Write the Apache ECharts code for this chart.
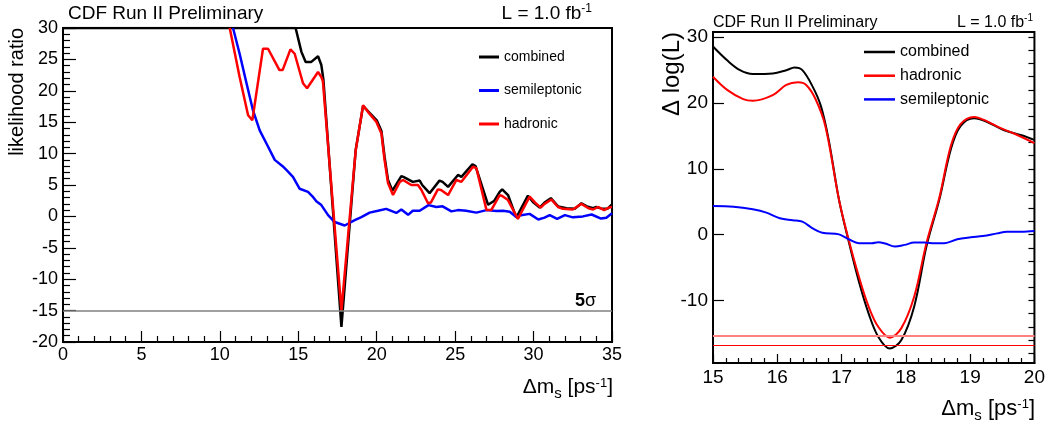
<!DOCTYPE html>
<html><head><meta charset="utf-8">
<script src="https://cdn.jsdelivr.net/npm/echarts@6/dist/echarts.min.js"></script>
<style>html,body{margin:0;padding:0;background:#fff}#c{width:1048px;height:425px}</style>
</head><body><div id="c"></div>
<script>
const FONT = '"Liberation Sans", Arial, sans-serif';

// ---------- left panel: likelihood ratio vs dm_s ----------
const leftCombined = [[0,30],[14.83,30],[15.2,26.2],[15.47,24.6],[15.83,24.6],[16.26,25.5],[16.47,24.1],[16.6,21.8],[17.75,-17.6],[18.66,10.6],[19.13,17.6],[19.5,16.6],[20.0,15.3],[20.3,13.6],[20.5,9.5],[20.72,5.8],[21.0,4.1],[21.57,6.4],[21.7,6.3],[22.3,5.5],[22.74,5.7],[22.9,5.0],[23.37,3.7],[24.0,5.7],[24.2,5.5],[24.55,4.7],[25.18,6.6],[25.4,6.3],[26.1,8.3],[26.3,8.0],[27.1,1.85],[27.5,2.5],[27.84,3.9],[28.0,4.3],[28.37,3.4],[28.9,-0.2],[29.64,3.3],[30.0,2.2],[30.39,1.4],[30.7,2.2],[31.1,2.9],[31.56,1.6],[32.1,1.3],[32.62,1.2],[33.05,2.1],[33.4,1.6],[33.8,1.3],[34.0,1.5],[34.4,1.2],[34.7,1.2],[35,1.9]];
const leftSemileptonic = [[10.84,30],[11.26,25.9],[11.7,21.2],[12.11,16.9],[12.54,13.7],[12.97,11.6],[13.5,9.0],[14.0,8.0],[14.24,7.4],[14.66,6.3],[15.09,4.4],[15.62,3.9],[15.9,3.2],[16.15,2.4],[16.47,1.8],[16.9,0.2],[17.32,-0.9],[17.96,-1.45],[18.6,-0.6],[19.02,-0.1],[19.55,0.6],[20.08,0.9],[20.6,1.2],[21.25,0.55],[21.57,1.1],[22.0,0.25],[22.3,0.9],[22.74,0.9],[23.3,1.8],[23.8,1.5],[24.2,1.6],[24.76,0.8],[25.18,1.0],[25.7,0.9],[26.35,0.6],[27.0,1.0],[27.63,0.85],[28.05,0.9],[28.48,0.75],[28.9,-0.1],[29.2,0.2],[29.75,0.4],[30.3,-0.5],[30.7,-0.2],[31.03,0.2],[31.5,-0.4],[32.0,0.2],[32.5,-0.15],[33.15,0.0],[33.7,0.3],[34.3,-0.35],[34.64,-0.2],[35,0.5]];
const leftHadronic = [[10.63,30],[11.26,22.2],[11.8,16.1],[12.07,15.3],[12.75,26.7],[13.07,26.7],[13.8,23.3],[14.0,23.3],[14.5,26.6],[14.77,25.9],[15.3,21.2],[15.56,20.4],[16.26,23.0],[16.47,22.2],[16.57,21.5],[17.75,-15.0],[18.66,10.5],[19.13,17.7],[19.44,16.65],[19.98,15.05],[20.3,13.2],[20.5,9.0],[20.72,5.3],[21.04,3.4],[21.47,5.5],[21.68,5.8],[22.2,5.0],[22.63,5.0],[22.85,4.2],[23.27,2.1],[23.45,2.2],[23.9,4.3],[24.1,4.2],[24.55,3.4],[25.08,5.8],[25.4,5.5],[26.14,7.9],[26.35,7.7],[27.0,1.0],[27.3,1.0],[27.84,3.4],[28.0,3.25],[28.37,2.6],[29.0,-0.4],[29.75,3.15],[30.1,2.2],[30.45,1.4],[30.7,2.0],[31.13,2.7],[31.56,1.5],[31.87,1.2],[32.5,1.1],[33.05,2.0],[33.5,1.3],[33.8,1.1],[34.1,1.5],[34.5,1.0],[34.8,1.4],[35,1.5]];
const fiveSigmaLevel = -15;
const leftXRange = [0, 35];
const leftYRange = [-20, 30];

// ---------- right panel: delta log(L) vs dm_s ----------
const rightCombined = [[15,28.6],[15.22,26.5],[15.42,25.0],[15.62,24.4],[15.93,24.5],[16.14,25.0],[16.27,25.4],[16.39,25.0],[16.55,22.5],[16.68,19.5],[16.8,14.4],[16.96,5.3],[17.1,-0.6],[17.27,-7.15],[17.42,-11.95],[17.57,-15.5],[17.75,-17.3],[17.93,-16.0],[18.13,-10.9],[18.32,-1.8],[18.52,5.3],[18.7,13.0],[18.85,16.5],[19.06,17.7],[19.25,17.2],[19.52,15.9],[19.8,15.1],[20,14.4]];
const rightHadronic = [[15,24.0],[15.22,22.0],[15.47,20.6],[15.62,20.35],[15.93,21.2],[16.14,22.75],[16.32,23.15],[16.45,22.75],[16.6,20.5],[16.75,16.4],[16.96,5.3],[17.09,0],[17.27,-6.4],[17.42,-10.9],[17.57,-14.0],[17.75,-15.65],[17.93,-14.2],[18.13,-9.4],[18.32,-1.3],[18.52,5.6],[18.7,13.5],[18.85,16.8],[19.06,17.9],[19.25,17.3],[19.45,16.3],[19.7,15.3],[20,13.9]];
const rightSemileptonic = [[15,4.36],[15.32,4.25],[15.62,3.85],[15.83,3.35],[16.04,2.5],[16.24,2.2],[16.39,1.98],[16.55,0.97],[16.7,0.3],[16.96,0.05],[17.11,-0.7],[17.27,-1.3],[17.47,-1.3],[17.57,-1.15],[17.68,-1.35],[17.83,-1.8],[17.98,-1.55],[18.13,-1.2],[18.29,-1.2],[18.45,-1.3],[18.6,-1.3],[18.8,-0.7],[19.01,-0.4],[19.2,-0.2],[19.42,0.2],[19.57,0.45],[19.8,0.45],[20,0.56]];
const rightHadronicLevel = -15.35;
const rightCombinedLevel = -16.8;
const rightXRange = [15, 20];
const rightYRange = [-19.5, 30.8];
const rightYMajorTicks = [-10, 0, 10, 20, 30];
const rightYMinorTicks = [-18,-16,-14,-12,-10,-8,-6,-4,-2,0,2,4,6,8,10,12,14,16,18,20,22,24,26,28,30];

const leftLegend = ['combined', 'semileptonic', 'hadronic'];
const rightLegend = ['combined', 'hadronic', 'semileptonic'];
const COLORS = { combined: '#000000', semileptonic: '#0000ff', hadronic: '#ff0000' };

const chart = echarts.init(document.getElementById('c'), null, { renderer: 'canvas' });

function valAxis(extra) {
  return Object.assign({
    type: 'value',
    axisLine: { show: true, onZero: false, lineStyle: { color: '#000', width: 2 } },
    axisTick: { show: true, inside: true, lineStyle: { color: '#000', width: 1.2 } },
    minorTick: { show: true, splitNumber: 5, lineStyle: { color: '#000', width: 1.2 } },
    splitLine: { show: false },
    axisLabel: { color: '#000', fontFamily: FONT }
  }, extra);
}

const lineSeries = (name, data, xi, width, smooth, extra) => Object.assign({
  type: 'line', name, data, xAxisIndex: xi, yAxisIndex: xi === 0 ? 0 : 1,
  showSymbol: false, symbol: 'none', smooth: smooth, clip: true,
  lineStyle: { color: COLORS[name], width: width },
  itemStyle: { color: COLORS[name] }, animation: false
}, extra || {});

function axisTitleRich(size) {
  return {
    a: { fontFamily: FONT, fontSize: size, lineHeight: size, color: '#000', verticalAlign: 'middle' },
    b: { fontFamily: FONT, fontSize: 15, lineHeight: 15, color: '#000', verticalAlign: 'middle', padding: [14, 0, 0, 0] },
    s: { fontFamily: FONT, fontSize: 13, lineHeight: 13, color: '#000', verticalAlign: 'top', padding: [0, 0, 18, 0] }
  };
}

const option = {
  animation: false,
  backgroundColor: '#fff',
  grid: [
    { left: 63, top: 28, width: 549, height: 314, show: true, borderColor: '#000', borderWidth: 2, backgroundColor: 'transparent' },
    { left: 713, top: 32, width: 323, height: 331, show: true, borderColor: '#000', borderWidth: 2, backgroundColor: 'transparent' }
  ],
  xAxis: [
    valAxis({ gridIndex: 0, min: leftXRange[0], max: leftXRange[1], interval: 5,
      axisTick: { show: true, inside: true, length: 11, lineStyle: { color: '#000', width: 1.2 } },
      minorTick: { show: true, splitNumber: 5, length: 6, lineStyle: { color: '#000', width: 1.2 } },
      axisLabel: { color: '#000', fontFamily: FONT, fontSize: 18, margin: 4 } }),
    valAxis({ gridIndex: 1, min: rightXRange[0], max: rightXRange[1], interval: 1,
      axisTick: { show: true, inside: true, length: 9, lineStyle: { color: '#000', width: 1.2 } },
      minorTick: { show: true, splitNumber: 5, length: 5, lineStyle: { color: '#000', width: 1.2 } },
      axisLabel: { color: '#000', fontFamily: FONT, fontSize: 19, margin: 5 } })
  ],
  yAxis: [
    valAxis({ gridIndex: 0, min: leftYRange[0], max: leftYRange[1], interval: 5,
      axisTick: { show: true, inside: true, length: 13, lineStyle: { color: '#000', width: 1.2 } },
      minorTick: { show: true, splitNumber: 5, length: 7, lineStyle: { color: '#000', width: 1.2 } },
      axisLabel: { color: '#000', fontFamily: FONT, fontSize: 18, margin: 5 } }),
    valAxis({ gridIndex: 1, min: rightYRange[0], max: rightYRange[1],
      axisTick: { show: true, inside: true, length: 11, customValues: rightYMajorTicks, lineStyle: { color: '#000', width: 1.2 } },
      minorTick: { show: false },
      axisLabel: { color: '#000', fontFamily: FONT, fontSize: 19, margin: 5, customValues: rightYMajorTicks } }),
    valAxis({ gridIndex: 1, min: rightYRange[0], max: rightYRange[1],
      axisLine: { show: false },
      axisTick: { show: true, inside: true, length: 6, customValues: rightYMinorTicks, lineStyle: { color: '#000', width: 1.2 } },
      minorTick: { show: false },
      axisLabel: { show: false } })
  ],
  legend: [
    { data: leftLegend, orient: 'vertical', left: 479, top: 50, padding: 0, icon: 'rect',
      itemWidth: 20, itemHeight: 3, itemGap: 19.5, selectedMode: false,
      textStyle: { color: '#000', fontFamily: FONT, fontSize: 14, lineHeight: 14 } },
    { data: rightLegend, orient: 'vertical', left: 864, top: 44, padding: 0, icon: 'rect',
      itemWidth: 31, itemHeight: 2.5, itemGap: 7.7, selectedMode: false,
      textStyle: { color: '#000', fontFamily: FONT, fontSize: 16, lineHeight: 16 } }
  ],
  series: [
    lineSeries('combined', leftCombined, 0, 2.5, false, {
      markLine: { silent: true, symbol: 'none', label: { show: false }, animation: false,
        lineStyle: { color: '#808080', type: 'solid', width: 1.5 },
        data: [{ yAxis: fiveSigmaLevel }] } }),
    lineSeries('semileptonic', leftSemileptonic, 0, 2.5, false),
    lineSeries('hadronic', leftHadronic, 0, 2.5, false),
    lineSeries('combined', rightCombined, 1, 2, 0.35),
    lineSeries('hadronic', rightHadronic, 1, 2, 0.35, {
      markLine: { silent: true, symbol: 'none', label: { show: false }, animation: false,
        data: [
          { yAxis: rightHadronicLevel, lineStyle: { color: '#ff8080', type: 'solid', width: 2 } },
          { yAxis: rightCombinedLevel, lineStyle: { color: '#ff0000', type: 'solid', width: 1 } }
        ] } }),
    lineSeries('semileptonic', rightSemileptonic, 1, 2, 0.35)
  ],
  graphic: [
    { type: 'text', x: 68, y: 14, style: { text: 'CDF Run II Preliminary', fill: '#000', fontFamily: FONT, fontSize: 19, textAlign: 'left', textVerticalAlign: 'middle' } },
    { type: 'text', x: 592, y: 14, style: { text: '{a|L = 1.0 fb}{s|-1}', textAlign: 'right', textVerticalAlign: 'middle',
        rich: { a: { fontFamily: FONT, fontSize: 19, lineHeight: 22, color: '#000', verticalAlign: 'middle' },
                s: { fontFamily: FONT, fontSize: 12, lineHeight: 12, color: '#000', verticalAlign: 'top' } } } },
    { type: 'text', x: 713, y: 23, style: { text: 'CDF Run II Preliminary', fill: '#000', fontFamily: FONT, fontSize: 16, textAlign: 'left', textVerticalAlign: 'middle' } },
    { type: 'text', x: 1033, y: 23, style: { text: '{a|L = 1.0 fb}{s|-1}', textAlign: 'right', textVerticalAlign: 'middle',
        rich: { a: { fontFamily: FONT, fontSize: 16, lineHeight: 19, color: '#000', verticalAlign: 'middle' },
                s: { fontFamily: FONT, fontSize: 10, lineHeight: 10, color: '#000', verticalAlign: 'top' } } } },
    { type: 'text', x: 17, y: 28, rotation: Math.PI / 2, style: { text: 'likelihood ratio', fill: '#000', fontFamily: FONT, fontSize: 20, textAlign: 'right', textVerticalAlign: 'middle' } },
    { type: 'text', x: 672, y: 32, rotation: Math.PI / 2, style: { text: 'Δ log(L)', fill: '#000', fontFamily: FONT, fontSize: 24, textAlign: 'right', textVerticalAlign: 'middle' } },
    { type: 'text', x: 613, y: 387, style: { text: '{a|Δm}{b|s}{a| [ps}{s|-1}{a|]}', textAlign: 'right', textVerticalAlign: 'middle', rich: axisTitleRich(21) } },
    { type: 'text', x: 1035, y: 409, style: { text: '{a|Δm}{b|s}{a| [ps}{s|-1}{a|]}', textAlign: 'right', textVerticalAlign: 'middle', rich: axisTitleRich(22) } },
    { type: 'text', x: 596, y: 301, style: { text: '{b|5}{n|σ}', textAlign: 'right', textVerticalAlign: 'middle',
        rich: { b: { fontFamily: FONT, fontSize: 18, fontWeight: 'bold', color: '#000' },
                n: { fontFamily: FONT, fontSize: 18, color: '#000' } } } }
  ]
};
chart.setOption(option);
</script></body></html>
